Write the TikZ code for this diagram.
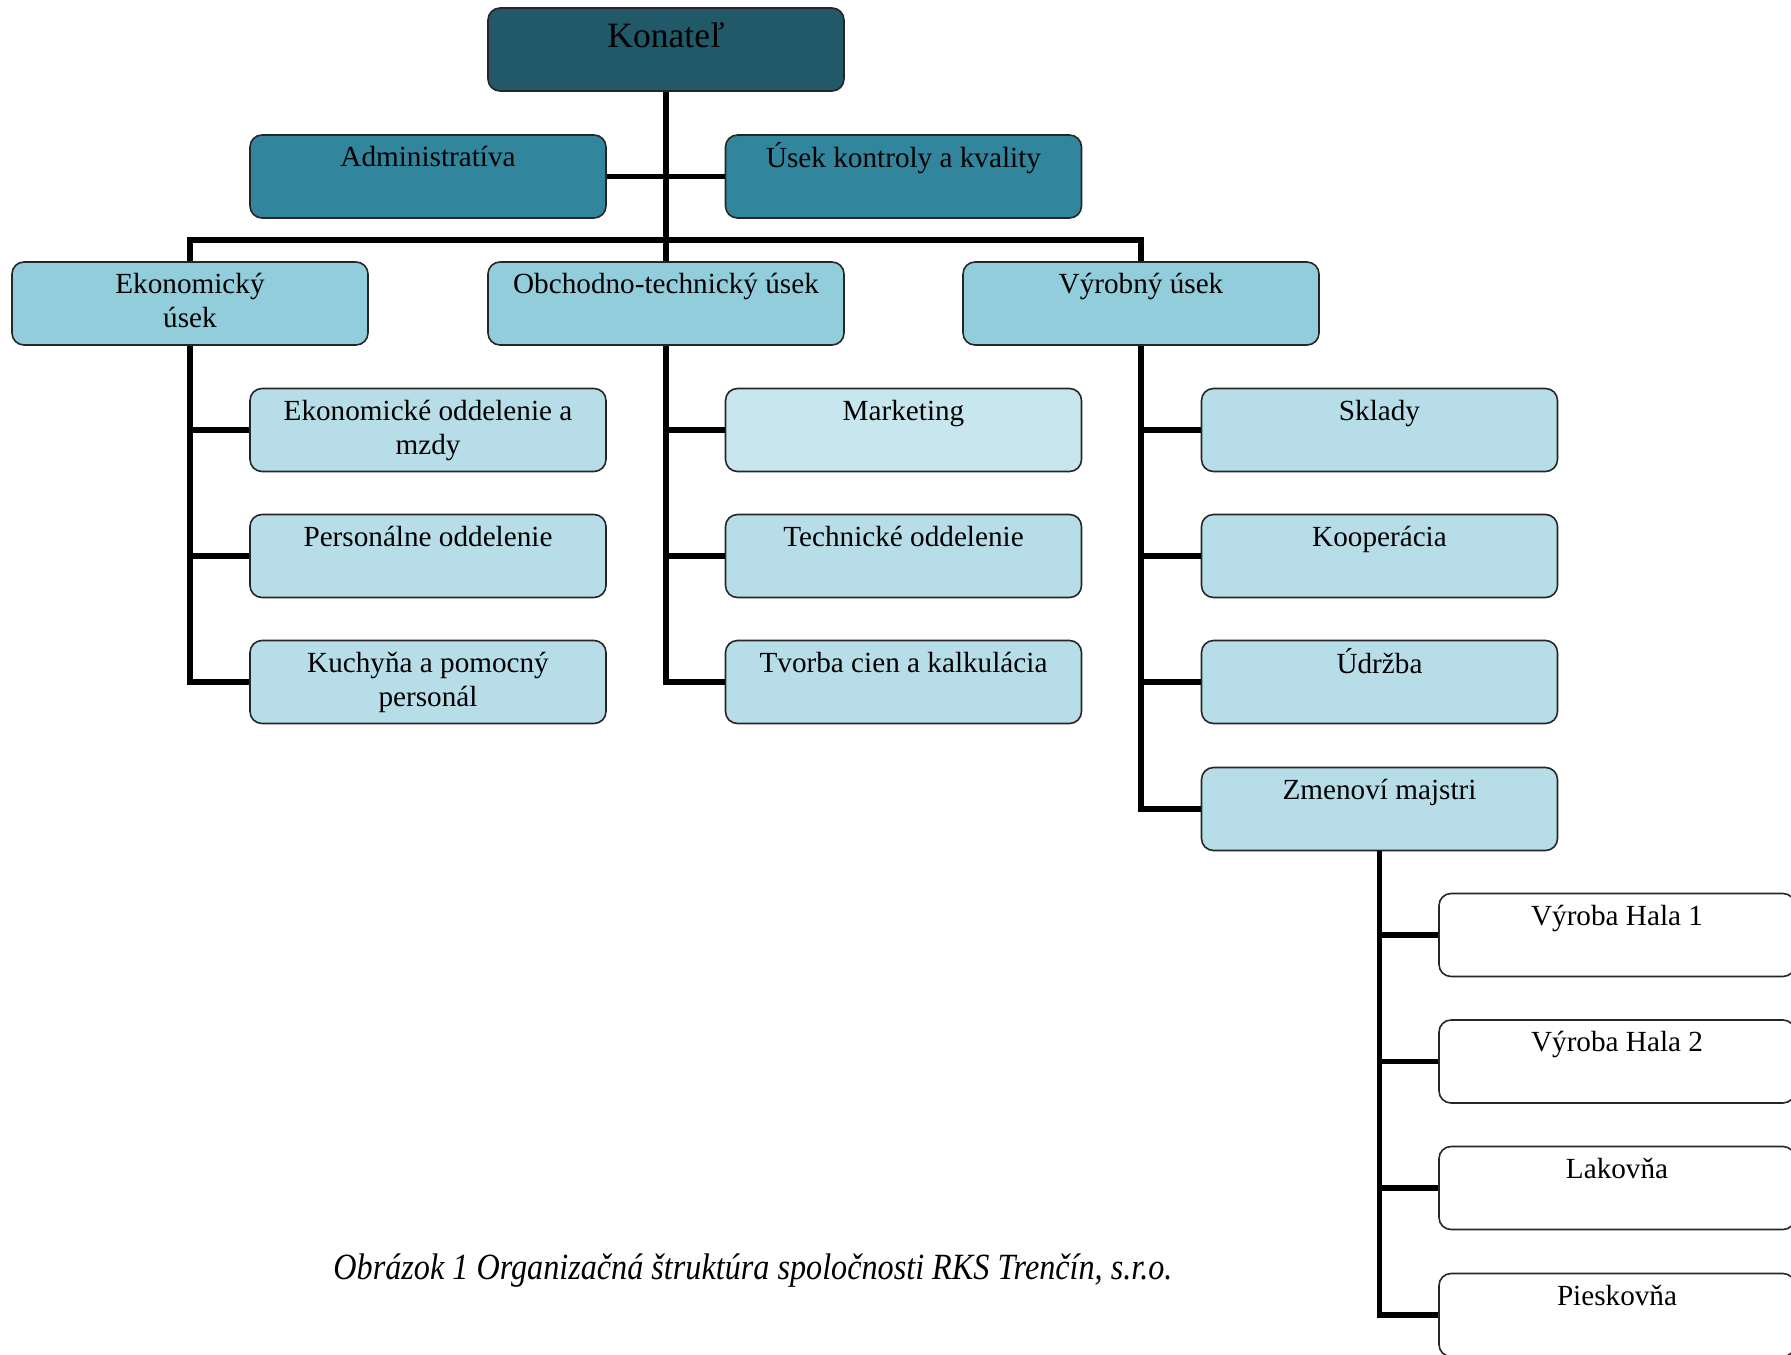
\documentclass[tikz,border=0pt]{standalone}
\usepackage{fontspec}
\setmainfont{Liberation Serif}
\newcommand\boxfs{\fontsize{14.6}{17}\selectfont}
\newcommand\topfs{\fontsize{17.8}{21}\selectfont}
\definecolor{cKon}{HTML}{215968}
\definecolor{cAdm}{HTML}{31859C}
\definecolor{cLvl}{HTML}{92CDDC}
\definecolor{cSub}{HTML}{B7DEE8}
\definecolor{cMkt}{HTML}{C8E6EE}
\tikzset{
  orgbox/.style={draw=black!85, line width=0.8pt, rounded corners=6pt,
    minimum width=178pt, minimum height=41.5pt, inner sep=0pt},
  lbl/.style={anchor=north, inner sep=0pt, align=center, font=\boxfs, text=black},
  conn/.style={line width=2.6pt, black, line join=miter},
}
\begin{document}
\begin{tikzpicture}[x=0.5pt, y=-0.5pt]
\useasboundingbox (0,0) rectangle (1791,1354);
\clip (0,0) rectangle (1791,1354);
% boxes
\node[orgbox, fill=cKon] (kon) at (666,49.5) {};
\node[orgbox, fill=cAdm] (adm) at (428,176.5) {};
\node[orgbox, fill=cAdm] (usk) at (903.5,176.5) {};
\node[orgbox, fill=cLvl] (eko) at (190,303.5) {};
\node[orgbox, fill=cLvl] (obc) at (666,303.5) {};
\node[orgbox, fill=cLvl] (vyr) at (1141,303.5) {};
\node[orgbox, fill=cSub] (ek1) at (428,430) {};
\node[orgbox, fill=cSub] (ek2) at (428,556) {};
\node[orgbox, fill=cSub] (ek3) at (428,682) {};
\node[orgbox, fill=cMkt] (ob1) at (903.5,430) {};
\node[orgbox, fill=cSub] (ob2) at (903.5,556) {};
\node[orgbox, fill=cSub] (ob3) at (903.5,682) {};
\node[orgbox, fill=cSub] (vy1) at (1379.5,430) {};
\node[orgbox, fill=cSub] (vy2) at (1379.5,556) {};
\node[orgbox, fill=cSub] (vy3) at (1379.5,682) {};
\node[orgbox, fill=cSub] (vy4) at (1379.5,809) {};
\node[orgbox, fill=white] (zm1) at (1617,935) {};
\node[orgbox, fill=white] (zm2) at (1617,1061.5) {};
\node[orgbox, fill=white] (zm3) at (1617,1188) {};
\node[orgbox, fill=white] (zm4) at (1617,1315) {};
% connectors
\coordinate (bar) at (666,240);
\draw[conn] (kon.south) -- (obc.north);
\draw[conn] (adm.east) -- (usk.west);
\draw[conn] (eko.north) |- (bar) -| (vyr.north);
\foreach \c in {ek1,ek2,ek3} \draw[conn] (eko.south) |- (\c.west);
\foreach \c in {ob1,ob2,ob3} \draw[conn] (obc.south) |- (\c.west);
\foreach \c in {vy1,vy2,vy3,vy4} \draw[conn] (vyr.south) |- (\c.west);
\foreach \c in {zm1,zm2,zm3,zm4} \draw[conn] (vy4.south) |- (\c.west);
% labels
\node[lbl, font=\topfs] (tkon) at ([yshift=-5.3pt]kon.north) {\strut Konateľ};
\node[lbl] (tadm) at ([yshift=-4.1pt]adm.north) {\strut Administratíva};
\node[lbl] (tusk) at ([yshift=-4.1pt]usk.north) {\strut Úsek kontroly a kvality};
\node[lbl] (teko) at ([yshift=-4.1pt]eko.north) {\strut Ekonomický\\úsek};
\node[lbl] (tobc) at ([yshift=-4.1pt]obc.north) {\strut Obchodno-technický úsek};
\node[lbl] (tvyr) at ([yshift=-4.1pt]vyr.north) {\strut Výrobný úsek};
\node[lbl] (tek1) at ([yshift=-4.1pt]ek1.north) {\strut Ekonomické oddelenie a\\mzdy};
\node[lbl] (tek2) at ([yshift=-4.1pt]ek2.north) {\strut Personálne oddelenie};
\node[lbl] (tek3) at ([yshift=-4.1pt]ek3.north) {\strut Kuchyňa a pomocný\\personál};
\node[lbl] (tob1) at ([yshift=-4.1pt]ob1.north) {\strut Marketing};
\node[lbl] (tob2) at ([yshift=-4.1pt]ob2.north) {\strut Technické oddelenie};
\node[lbl] (tob3) at ([yshift=-4.1pt]ob3.north) {\strut Tvorba cien a kalkulácia};
\node[lbl] (tvy1) at ([yshift=-4.1pt]vy1.north) {\strut Sklady};
\node[lbl] (tvy2) at ([yshift=-4.1pt]vy2.north) {\strut Kooperácia};
\node[lbl] (tvy3) at ([yshift=-4.1pt]vy3.north) {\strut Údržba};
\node[lbl] (tvy4) at ([yshift=-4.1pt]vy4.north) {\strut Zmenoví majstri};
\node[lbl] (tzm1) at ([yshift=-4.1pt]zm1.north) {\strut Výroba Hala 1};
\node[lbl] (tzm2) at ([yshift=-4.1pt]zm2.north) {\strut Výroba Hala 2};
\node[lbl] (tzm3) at ([yshift=-4.1pt]zm3.north) {\strut Lakovňa};
\node[lbl] (tzm4) at ([yshift=-4.1pt]zm4.north) {\strut Pieskovňa};
% caption
\node[anchor=base, inner sep=0pt, font=\fontsize{18.5}{22}\selectfont\itshape, xscale=0.87] (cap) at (753,1279)
  {Obrázok 1 Organizačná štruktúra spoločnosti RKS Trenčín, s.r.o.};
\end{tikzpicture}
\end{document}
